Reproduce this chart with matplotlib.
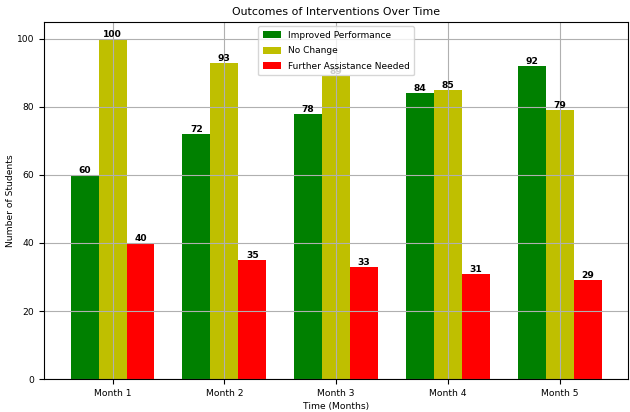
import numpy as np
import matplotlib
matplotlib.use('Agg')
import matplotlib.pyplot as plt

months = ['Month 1', 'Month 2', 'Month 3', 'Month 4', 'Month 5']
improved = [60, 72, 78, 84, 92]
no_change = [100, 93, 89, 85, 79]
further = [40, 35, 33, 31, 29]

x = np.arange(len(months))
width = 0.25

fig, ax = plt.subplots(figsize=(6.3, 4.12), dpi=100)
b1 = ax.bar(x - width, improved, width, color='g', label='Improved Performance')
b2 = ax.bar(x, no_change, width, color='y', label='No Change')
b3 = ax.bar(x + width, further, width, color='r', label='Further Assistance Needed')

for bars in (b1, b2, b3):
    for bar in bars:
        h = bar.get_height()
        ax.text(bar.get_x() + bar.get_width() / 2, h, f'{h:.0f}',
                ha='center', va='bottom', fontsize=6.6, fontweight='bold')

ax.set_xticks(x)
ax.set_xticklabels(months, fontsize=6.6)
ax.tick_params(axis='y', labelsize=6.6)
ax.set_xlabel('Time (Months)', fontsize=6.6, labelpad=3)
ax.set_ylabel('Number of Students', fontsize=6.6, labelpad=1)
ax.set_title('Outcomes of Interventions Over Time', fontsize=7.9, pad=5)
ax.legend(loc='upper center', fontsize=6.5, labelspacing=0.72,
          handleheight=0.8, borderpad=0.5)
ax.grid(True)

plt.subplots_adjust(left=0.07, right=0.997, top=0.947, bottom=0.08)
plt.savefig('out.png')
